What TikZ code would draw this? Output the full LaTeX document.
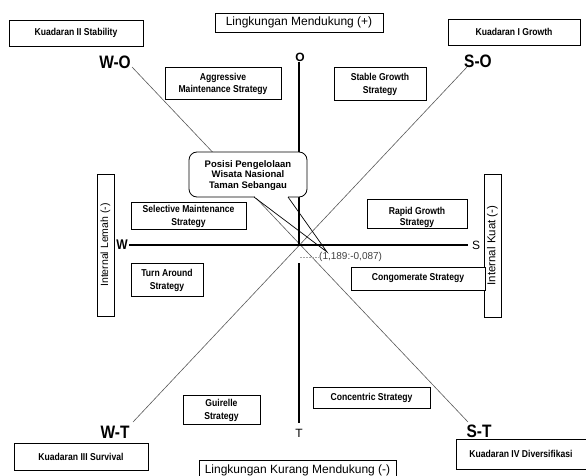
\documentclass[tikz,border=0pt]{standalone}
\usepackage{fontspec}
\setmainfont{Liberation Sans}
\newfontfamily\nrw[FakeStretch=0.86]{Liberation Sans}
\begin{document}
\begin{tikzpicture}[x=1pt,y=-1pt,
  box/.style={draw, line width=0.8pt, fill=white, inner sep=0pt, align=center,
    font=\nrw\bfseries\fontsize{10}{12.5}\selectfont},
  box2/.style={box, text depth=-2.5pt},
  plain/.style={draw, line width=0.8pt, fill=white, inner sep=0pt, align=center,
    font=\fontsize{12}{14}\selectfont},
  side/.style={draw, line width=0.8pt, fill=white, inner sep=0pt, rotate=90,
    minimum height=17pt},
  big/.style={font=\nrw\bfseries\fontsize{18}{20}\selectfont, inner sep=0pt},
  axis/.style={line width=2.6pt},
  diag/.style={line width=0.6pt, black!65}]
\useasboundingbox (0,0) rectangle (586,476);

% diagonals
\coordinate (wo) at (132,67);
\coordinate (st) at (468,422);
\coordinate (so) at (467,67);
\coordinate (wt) at (133,422);
\draw[diag] (wo) -- (st);
\draw[diag] (so) -- (wt);

% axes
\coordinate (otop) at (299,62);
\coordinate (c) at (299,245);
\coordinate (cbot) at (299,263);
\coordinate (tbot) at (299,423);
\coordinate (wl) at (129,245);
\coordinate (sr) at (468,245);
\draw[axis] (otop) -- (c);
\draw[axis] (cbot) -- (tbot);
\draw[axis] (wl) -- (sr);

% axis letters
\node[font=\bfseries\fontsize{12}{14}\selectfont, inner sep=0pt] (lo) at (300,57) {O};
\node[font=\fontsize{12}{14}\selectfont, inner sep=0pt] (lt) at (299,433) {T};
\node[font=\nrw\bfseries\fontsize{14}{16}\selectfont, inner sep=0pt] (lw) at (122,245) {W};
\node[font=\fontsize{12}{14}\selectfont, inner sep=0pt] (ls) at (476,245) {S};

% corner labels
\node[big] (lwo) at (115,62) {W-O};
\node[big] (lso) at (478,61) {S-O};
\node[big] (lwt) at (115,432) {W-T};
\node[big] (lst) at (479,431) {S-T};

% quadrant boxes
\node[box, minimum width=134pt, minimum height=26pt] (k2) at (76,33) {Kuadaran II Stability};
\node[box, minimum width=132pt, minimum height=26pt] (k1) at (514,32) {Kuadaran I Growth};
\node[box, minimum width=134pt, minimum height=27pt] (k3) at (81,456.5) {Kuadaran III Survival};
\node[box, minimum width=130pt, minimum height=30pt] (k4) at (521,454) {Kuadaran IV Diversifikasi};

% environment boxes
\node[plain, minimum width=168pt, minimum height=19pt] (lm) at (299,22.5) {Lingkungan Mendukung (+)};
\node[plain, minimum width=197pt, minimum height=24pt] (lk) at (297.5,472) {\raisebox{5pt}{Lingkungan Kurang Mendukung (-)}};

% internal boxes
\node[side, minimum width=142pt, font=\fontsize{10.5}{12}\selectfont] (il) at (105.5,245) {Internal Lemah (-)};
\node[side, minimum width=143pt, font=\fontsize{11.5}{13}\selectfont] (ik) at (492.5,245.5) {Internal Kuat (-)};

% strategy boxes
\node[box2, minimum width=116pt, minimum height=32pt] (ag) at (223,83) {Aggressive\\Maintenance Strategy};
\node[box2, minimum width=92pt, minimum height=33pt] (sg) at (380,83.5) {Stable Growth\\Strategy};
\node[box2, minimum width=115pt, minimum height=27pt] (sm) at (188.5,215.5) {Selective Maintenance\\Strategy};
\node[box, minimum width=100pt, minimum height=29pt] (rg) at (417,213.5) {\raisebox{-6pt}[0pt][0pt]{\begin{tabular}{@{}c@{}}Rapid Growth\\[-1.5pt]Strategy\end{tabular}}};
\node[box2, minimum width=72pt, minimum height=33pt] (ta) at (167,279.5) {Turn Around\\Strategy};
\node[box, minimum width=134pt, minimum height=23pt] (cg) at (418,278.5) {Congomerate Strategy};
\node[box2, minimum width=77pt, minimum height=29pt] (gs) at (221.5,409.5) {Guirelle\\Strategy};
\node[box, minimum width=117pt, minimum height=21pt] (cs) at (371.5,397.5) {Concentric Strategy};

% callout
\node[draw, fill=white, rounded corners=8pt, line width=0.8pt, minimum width=118pt,
  minimum height=45pt, inner sep=0pt, align=center, text depth=-2.5pt,
  font=\bfseries\fontsize{9.5}{10.5}\selectfont] (cal) at (248,174.5)
  {Posisi Pengelolaan\\Wisata Nasional\\Taman Sebangau};
\coordinate (pa) at (254,197);
\coordinate (pb) at (288,197);
\coordinate (tip) at (327,252);
\draw[white, line width=1.4pt] ([xshift=0.5pt]pa) -- ([xshift=-0.5pt]pb);
\draw[line width=0.7pt] (pa) -- (tip) -- (pb);

% point label
\node[font=\fontsize{10}{12}\selectfont, text=black!75, anchor=west, inner sep=0pt] (pt) at (319,257) {(1,189:-0,087)};
\coordinate (pd) at (300,257);
\draw[black!35, dash pattern=on 2pt off 1pt, line width=0.6pt] (pd) -- (pt.west);
\end{tikzpicture}
\end{document}
